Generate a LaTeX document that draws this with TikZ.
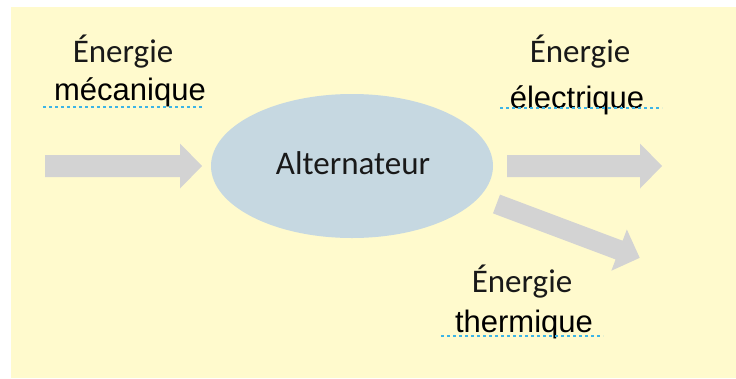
\documentclass[tikz,border=0pt]{standalone}
\usepackage{fontspec}
\setmainfont{Liberation Sans}
\newfontfamily\calib{Carlito}
\usetikzlibrary{shapes.geometric}
\definecolor{bgyellow}{HTML}{FFFACD}
\definecolor{ellblue}{HTML}{C6D8E1}
\definecolor{arrgray}{HTML}{D3D3D3}
\definecolor{spellblue}{HTML}{3CB4E6}
\tikzset{
  calibtext/.style={font=\calib\fontsize{33}{36}\selectfont, text=black!90, inner sep=0pt, anchor=base},
  arialtext/.style={font=\fontsize{31}{34}\selectfont, text=black, inner sep=0pt, anchor=base},
  blockarrow/.style={fill=arrgray, draw=none},
  spell/.style={draw=spellblue, line width=2.5pt, dash pattern=on 3pt off 3pt},
}
\begin{document}
\begin{tikzpicture}[x=1pt,y=-1pt]
\useasboundingbox (0,0) rectangle (736,378);
\fill[bgyellow] (11,7) rectangle (736,378);
% ellipse
\node[ellipse, fill=ellblue, minimum width=282pt, minimum height=144pt, inner sep=0pt] (alt) at (352,166) {};
\node[calibtext] (altlabel) at (353,174) {Alternateur};
% arrows
\begin{scope}[shift={(45,166)}]
  \fill[blockarrow] (0,-11) -- (135,-11) -- (135,-22.5) -- (157,0) -- (135,22.5) -- (135,11) -- (0,11) -- cycle;
\end{scope}
\begin{scope}[shift={(507,166)}]
  \fill[blockarrow] (0,-11) -- (133,-11) -- (133,-22.5) -- (155,0) -- (133,22.5) -- (133,11) -- (0,11) -- cycle;
\end{scope}
\begin{scope}[shift={(496.5,204)}, rotate=-20.6]
  \fill[blockarrow] (0,-10) -- (131,-10) -- (131,-22) -- (153,0) -- (131,22) -- (131,10) -- (0,10) -- cycle;
\end{scope}
% texts
\node[calibtext] (e1) at (123,62) {Énergie};
\node[arialtext] (m1) at (130,100) {mécanique};
\node[calibtext] (e2) at (580,62) {Énergie};
\node[arialtext] (m2) at (577,108) {électrique};
\node[calibtext] (e3) at (522,292) {Énergie};
\node[arialtext] (m3) at (524,332) {thermique};
% spell-check underlines
\coordinate (u1a) at (43,107); \coordinate (u1b) at (204,107);
\coordinate (u2a) at (500,108); \coordinate (u2b) at (662,108);
\coordinate (u3a) at (441,336); \coordinate (u3b) at (603,336);
\draw[spell] (u1a) -- (u1b);
\draw[spell] (u2a) -- (u2b);
\draw[spell] (u3a) -- (u3b);
\end{tikzpicture}
\end{document}
